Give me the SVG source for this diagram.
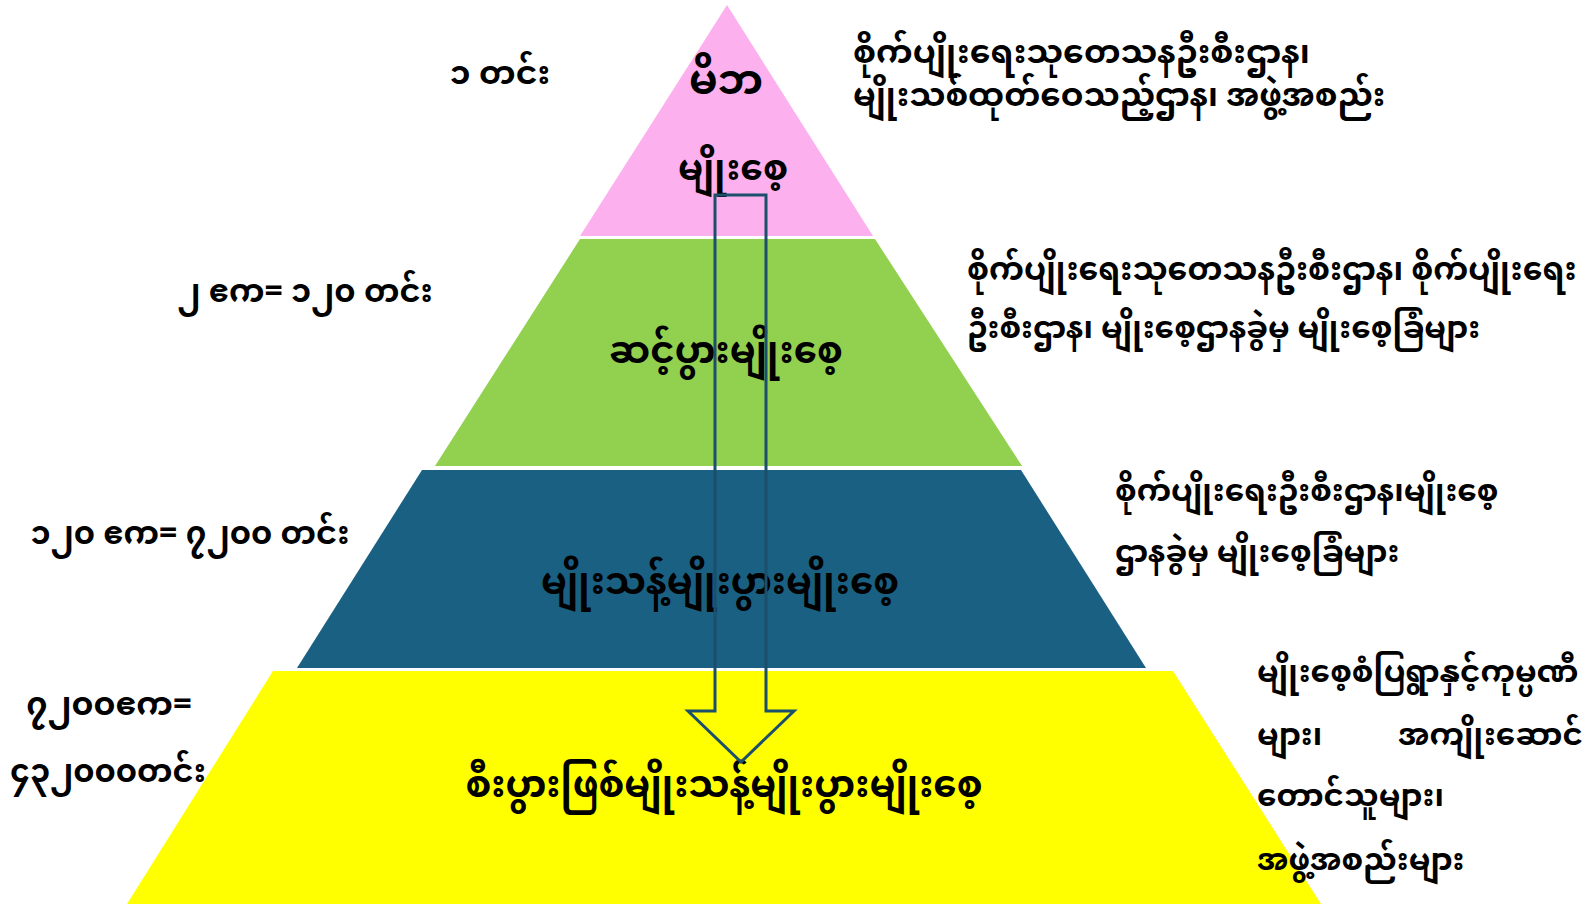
<svg xmlns="http://www.w3.org/2000/svg" width="1596" height="904" viewBox="0 0 1596 904">
<style>
text{font-family:"Noto Sans Myanmar","Myanmar Text","Padauk","Noto Sans",sans-serif;font-weight:bold;fill:#000}
.lbl{font-size:32px;text-anchor:middle}
.ctr{font-size:37px;text-anchor:middle}
.side{font-size:31px}
.side1{font-size:33px}
.arrow{fill:none;stroke:#1B4F6B;stroke-width:3;stroke-linejoin:miter}
</style>
<rect width="1596" height="904" fill="#fff"/>
<g id="layer1">
<polygon points="727,5 873,236 580,236" fill="#FCB0EE"/>
<text class="ctr" x="726" y="94" style="font-size:41px">မိဘ</text>
<text class="ctr" x="733" y="180" style="font-size:36px">မျိုးစေ့</text>
</g>
<g id="layer2">
<polygon points="580,239 875,239 1022,466 435,466" fill="#92D050"/>
<text class="ctr" x="726" y="363">ဆင့်ပွားမျိုးစေ့</text>
</g>
<g id="layer3">
<polygon points="422,470 1021,470 1146,668 297,668" fill="#1A6082"/>
<text class="ctr" x="720" y="594">မျိုးသန့်မျိုးပွားမျိုးစေ့</text>
</g>
<g id="layer4">
<polygon points="273,671 1173,671 1321,904 127,904" fill="#FFFF00"/>
<text class="ctr" x="724" y="797">စီးပွားဖြစ်မျိုးသန့်မျိုးပွားမျိုးစေ့</text>
</g>
<g id="left-labels">
<text class="lbl" x="500" y="84" style="font-size:33px">၁ တင်း</text>
<text class="lbl" x="305" y="302">၂ ဧက= ၁၂၀ တင်း</text>
<text class="lbl" x="190" y="544">၁၂၀ ဧက= ၇၂၀၀ တင်း</text>
<text class="lbl" x="109" y="715" style="font-size:33px">၇၂၀၀ဧက=</text>
<text class="lbl" x="108" y="782">၄၃၂၀၀၀တင်း</text>
</g>
<g id="right-labels">
<text class="side1" x="853" y="63">စိုက်ပျိုးရေးသုတေသနဦးစီးဌာန၊</text>
<text class="side1" x="853" y="106" style="font-size:32.5px">မျိုးသစ်ထုတ်ဝေသည့်ဌာန၊ အဖွဲ့အစည်း</text>
<text class="side" x="967" y="280" style="font-size:31.5px">စိုက်ပျိုးရေးသုတေသနဦးစီးဌာန၊ စိုက်ပျိုးရေး</text>
<text class="side" x="967" y="338">ဦးစီးဌာန၊ မျိုးစေ့ဌာနခွဲမှ မျိုးစေ့ခြံများ</text>
<text class="side" x="1115" y="501">စိုက်ပျိုးရေးဦးစီးဌာန၊မျိုးစေ့</text>
<text class="side" x="1115" y="562">ဌာနခွဲမှ မျိုးစေ့ခြံများ</text>
<text class="side" x="1257" y="682">မျိုးစေ့စံပြရွာနှင့်ကုမ္ပဏီ</text>
<text class="side" x="1257" y="745">များ၊</text>
<text class="side" x="1583" y="745" text-anchor="end">အကျိုးဆောင်</text>
<text class="side" x="1257" y="806">တောင်သူများ၊</text>
<text class="side" x="1257" y="870">အဖွဲ့အစည်းများ</text>
</g>
<g id="connectors">
<path class="arrow" d="M715,195 L766,195 L766,711 L794,711 L741,762 L688,711 L715,711 Z"/>
</g>
</svg>
